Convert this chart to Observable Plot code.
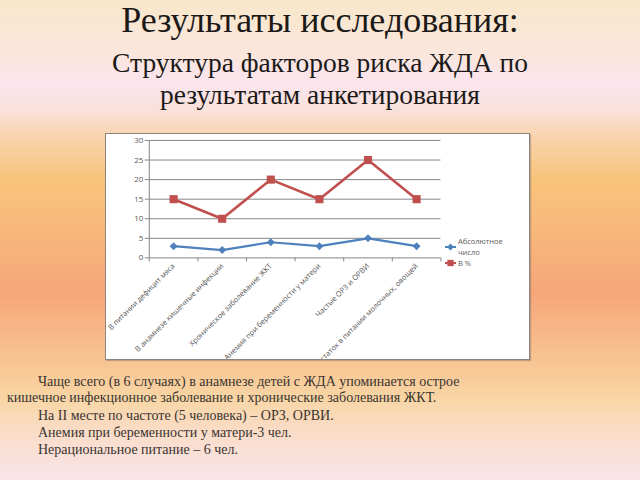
<!DOCTYPE html>
<html><head><meta charset="utf-8">
<script src="https://cdn.jsdelivr.net/npm/d3@7"></script>
<script src="https://cdn.jsdelivr.net/npm/@observablehq/plot@0.6"></script>
<style>
html,body{margin:0;padding:0;}
body{width:640px;height:480px;overflow:hidden;position:relative;
background:linear-gradient(to bottom,#f9e7cb 0px,#fae6dc 55px,#fbe4ee 82px,#f9e2da 110px,#f8d2a8 140px,#f8c47c 178px,#f7b87a 230px,#f6a67a 292px,#f7b486 325px,#f8c896 370px,#f8d6a6 400px,#fadcc6 430px,#f9e4ea 480px);}
.serif{font-family:"Liberation Serif","Times New Roman",Tinos,"Nimbus Roman","FreeSerif","DejaVu Serif","Noto Serif",Times,serif;}
.t{position:absolute;left:0;width:640px;text-align:center;color:#1c1a18;white-space:nowrap;}
#box{position:absolute;left:105px;top:133px;width:425px;height:227px;background:#fff;border:1px solid #8a8580;box-sizing:border-box;overflow:hidden;box-shadow:1px 1px 1px rgba(120,100,90,0.4);}
#box svg{position:absolute;left:-1px;top:-1px;}
#legend{position:absolute;left:445px;top:236px;font-family:"Open Sans","Liberation Sans",sans-serif;font-size:7.5px;color:#595959;line-height:11px;}
.li{position:relative;padding-left:13px;}
.li svg{position:absolute;left:0;}
.body{position:absolute;color:#3a3430;font-size:14px;white-space:nowrap;}
</style></head>
<body>
<div class="t serif" id="title" style="top:1px;font-size:36px;line-height:38px;">Результаты исследования:</div>
<div class="t serif" id="sub1" style="top:46px;font-size:27.5px;line-height:34px;">Структура факторов риска ЖДА по</div>
<div class="t serif" id="sub2" style="top:78px;font-size:27.5px;line-height:34px;">результатам анкетирования</div>
<div id="box"></div>
<div id="legend"></div>
<div id="text"></div>
<script>
const categories = ["В питании дефицит мяса","В анамнезе кишечные инфекции","Хроническое заболевание ЖКТ","Анемия при беременности у матери","Частые ОРЗ и ОРВИ","Недостаток в питании молочных, овощей"];
const absoluteValues = [3, 2, 4, 3, 5, 3];
const percentValues = [15, 10, 20, 15, 25, 15];
const seriesNames = ["Абсолютное число", "В %"];
const seriesColors = ["#4f81bd", "#c0504d"];
const yTicks = [0, 5, 10, 15, 20, 25, 30];
const bodyLines = [
  "Чаще всего (в 6 случаях) в анамнезе детей с ЖДА упоминается острое",
  "кишечное инфекционное заболевание и хронические заболевания ЖКТ.",
  "На II месте по частоте (5 человека) – ОРЗ, ОРВИ.",
  "Анемия при беременности у матери-3 чел.",
  "Нерациональное питание – 6 чел."
];

const idx = d3.range(categories.length);
const absData = idx.map(i => ({i, v: absoluteValues[i]}));
const pctData = idx.map(i => ({i, v: percentValues[i]}));
const bounds = d3.range(categories.length + 1).map(i => i - 0.5);

const chart = Plot.plot({
  width: 425, height: 227,
  marginLeft: 44, marginRight: 88, marginTop: 7, marginBottom: 102,
  x: {domain: [-0.5, categories.length - 0.5]},
  y: {domain: [0, 30]},
  style: {fontFamily: "'Open Sans','Liberation Sans',sans-serif", fontSize: "7.5px", color: "#595959", background: "transparent"},
  marks: [
    Plot.gridY(yTicks, {stroke: "#858585", strokeOpacity: 1}),
    Plot.ruleX([-0.5], {stroke: "#858585"}),
    Plot.axisY({ticks: yTicks, tickSize: 4, tickPadding: 2, stroke: "#858585", fill: "#595959", fontSize: 8, label: null}),
    Plot.axisX({ticks: bounds, tickSize: 4, tickFormat: () => "", stroke: "#858585", label: null}),
    Plot.axisX({ticks: idx, tickSize: 0, tickPadding: 7, tickRotate: -45, tickFormat: i => categories[i], fill: "#595959", fontSize: 7.5, label: null}),
    Plot.line(absData, {x: "i", y: "v", stroke: seriesColors[0], strokeWidth: 2.2}),
    Plot.dot(absData, {x: "i", y: "v", symbol: "diamond2", r: 3.6, fill: seriesColors[0], stroke: "none"}),
    Plot.line(pctData, {x: "i", y: "v", stroke: seriesColors[1], strokeWidth: 2.6}),
    Plot.dot(pctData, {x: "i", y: "v", symbol: "square", r: 4.6, fill: seriesColors[1], stroke: "none"})
  ]
});
document.getElementById("box").appendChild(chart);

// legend
const legend = document.getElementById("legend");
seriesNames.forEach((name, k) => {
  const item = document.createElement("div");
  item.className = "li";
  const words = name.split(" ");
  if (k === 0) item.innerHTML = words[0] + "<br>" + words.slice(1).join(" ");
  else item.textContent = name;
  const s = d3.create("svg").attr("width", 11).attr("height", 10).style("top", k === 0 ? "6px" : "0px");
  s.append("line").attr("x1", 0).attr("x2", 11).attr("y1", 5).attr("y2", 5).attr("stroke", seriesColors[k]).attr("stroke-width", 2);
  const sym = d3.symbol(k === 0 ? d3.symbolDiamond2 : d3.symbolSquare, k === 0 ? 30 : 40);
  s.append("path").attr("d", sym()).attr("transform", "translate(5.5,5)").attr("fill", seriesColors[k]);
  item.prepend(s.node());
  legend.appendChild(item);
});

// body text
const bodyX = [38, 7, 38, 38, 38];
const bodyY = [374, 390, 408, 425, 442];
const text = document.getElementById("text");
bodyLines.forEach((l, k) => {
  const d = document.createElement("div");
  d.className = "body serif";
  d.style.left = bodyX[k] + "px";
  d.style.top = bodyY[k] + "px";
  d.textContent = l;
  text.appendChild(d);
});
</script>
</body></html>
